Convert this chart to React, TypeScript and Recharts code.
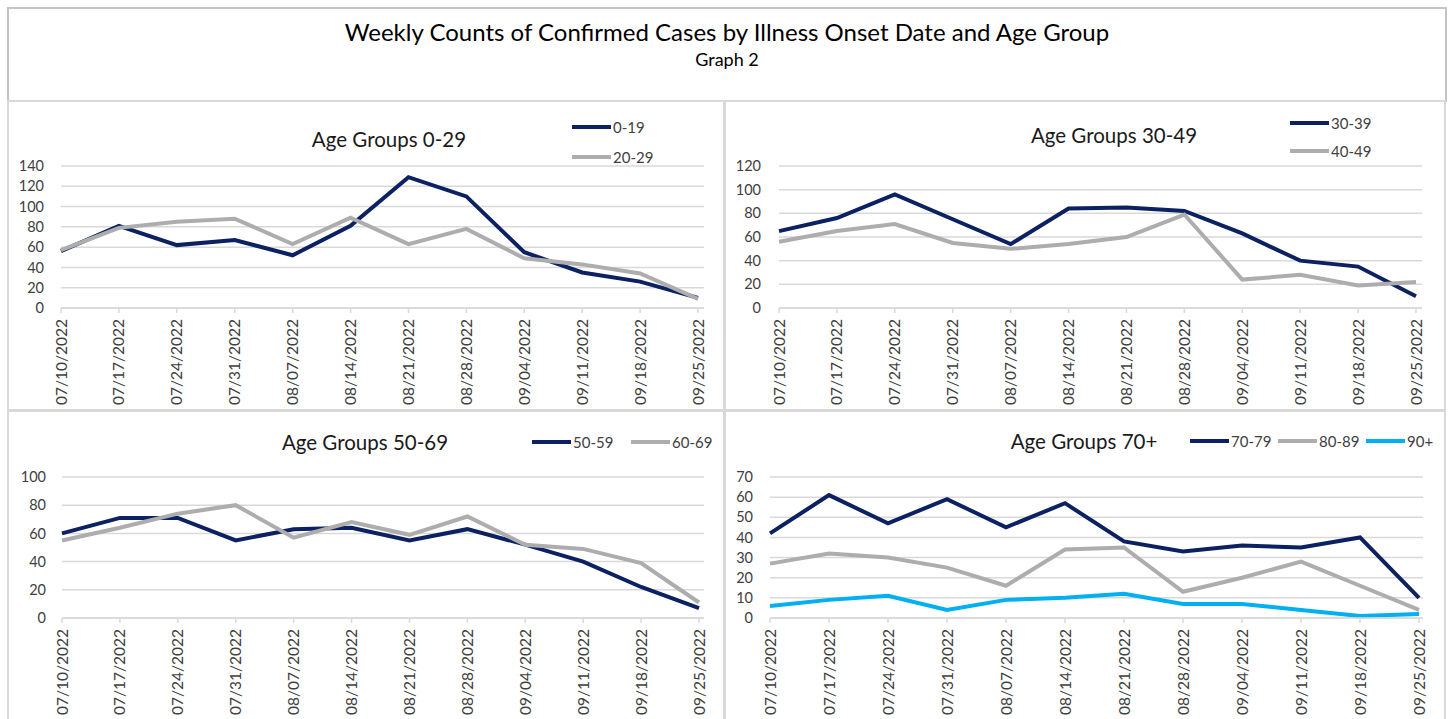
import { LineChart, Line, XAxis, YAxis, CartesianGrid, Legend } from "recharts";

const FONT = "Lato, 'Open Sans', sans-serif";
const NAVY = "#0C2161";
const GRAY = "#ADADAD";
const SKY = "#00B0F0";
const GRID = "#D9D9D9";

// week of illness onset
const weeks = [
  "07/10/2022", "07/17/2022", "07/24/2022", "07/31/2022", "08/07/2022", "08/14/2022",
  "08/21/2022", "08/28/2022", "09/04/2022", "09/11/2022", "09/18/2022", "09/25/2022",
];

const age0to19 = [56, 81, 62, 67, 52, 81, 129, 110, 55, 35, 26, 10];
const age20to29 = [57, 79, 85, 88, 63, 89, 63, 78, 49, 43, 34, 9];
const age30to39 = [65, 76, 96, 75, 54, 84, 85, 82, 63, 40, 35, 10];
const age40to49 = [56, 65, 71, 55, 50, 54, 60, 79, 24, 28, 19, 22];
const age50to59 = [60, 71, 71, 55, 63, 64, 55, 63, 52, 40, 22, 7];
const age60to69 = [55, 64, 74, 80, 57, 68, 59, 72, 52, 49, 39, 11];
const age70to79 = [42, 61, 47, 59, 45, 57, 38, 33, 36, 35, 40, 10];
const age80to89 = [27, 32, 30, 25, 16, 34, 35, 13, 20, 28, 16, 4];
const age90plus = [6, 9, 11, 4, 9, 10, 12, 7, 7, 4, 1, 2];

const ticks0to29 = [0, 20, 40, 60, 80, 100, 120, 140];
const ticks30to49 = [0, 20, 40, 60, 80, 100, 120];
const ticks50to69 = [0, 20, 40, 60, 80, 100];
const ticks70plus = [0, 10, 20, 30, 40, 50, 60, 70];

type Series = { key: string; name: string; values: number[]; color: string };

const buildRows = (series: Series[]) =>
  weeks.map((week, i) => {
    const row: Record<string, string | number> = { week };
    series.forEach((s) => (row[s.key] = s.values[i]));
    return row;
  });

const DateTick = (props: any) => {
  const { x, y, payload } = props;
  return (
    <text
      x={x}
      y={y}
      dy={5.5}
      transform={`rotate(-90, ${x}, ${y})`}
      textAnchor="end"
      fill="#404040"
      fontSize={15.5}
      fontFamily={FONT}
    >
      {payload.value}
    </text>
  );
};

const makeLegend = (vertical: boolean, rowGap: number, itemWidth: number) => (props: any) => {
  const items = props.payload || [];
  return (
    <div
      style={{
        display: "flex",
        flexDirection: vertical ? "column" : "row",
        fontFamily: FONT,
        fontSize: 15,
        color: "#404040",
      }}
    >
      {items.map((it: any) => (
        <div
          key={it.value}
          style={{
            display: "flex",
            alignItems: "center",
            height: vertical ? rowGap : 20,
            width: vertical ? undefined : itemWidth,
          }}
        >
          <span style={{ display: "inline-block", width: 39, height: 4, background: it.color, marginRight: 2 }} />
          <span>{it.value}</span>
        </div>
      ))}
    </div>
  );
};

type PanelProps = {
  left: number;
  top: number;
  width: number;
  height: number;
  title: string;
  titleX: number;
  titleY: number;
  series: Series[];
  ticks: number[];
  margin: { top: number; right: number; bottom: number; left: number };
  yWidth: number;
  yGap: number;
  padRight: number;
  legendLeft: number;
  legendTop: number;
  legendVertical: boolean;
  rowGap: number;
  itemWidth: number;
};

function Panel(p: PanelProps) {
  const rows = buildRows(p.series);
  return (
    <div
      style={{
        position: "absolute",
        left: p.left,
        top: p.top,
        width: p.width,
        height: p.height,
        border: `2px solid ${GRID}`,
        boxSizing: "border-box",
      }}
    >
      <div style={{ position: "absolute", left: -2, top: -2 }}>
        <LineChart width={p.width} height={p.height} data={rows} margin={p.margin}>
          <CartesianGrid vertical={false} stroke={GRID} strokeWidth={1.5} />
          <XAxis
            dataKey="week"
            interval={0}
            padding={{ left: 0, right: p.padRight }}
            stroke={GRID}
            strokeWidth={1.5}
            tickSize={5}
            tickMargin={6}
            height={100}
            tick={<DateTick />}
          />
          <YAxis
            width={p.yWidth}
            domain={[0, p.ticks[p.ticks.length - 1]]}
            ticks={p.ticks}
            interval={0}
            axisLine={false}
            tickLine={false}
            tickSize={0}
            tickMargin={p.yGap}
            tick={{ fill: "#404040", fontSize: 14.5, fontFamily: FONT }}
          />
          <Legend
            layout="vertical"
            align="center"
            verticalAlign="middle"
            wrapperStyle={{ left: p.legendLeft, top: p.legendTop, width: "auto", height: "auto" }}
            content={makeLegend(p.legendVertical, p.rowGap, p.itemWidth)}
          />
          {p.series.map((s) => (
            <Line
              key={s.key}
              type="linear"
              dataKey={s.key}
              name={s.name}
              stroke={s.color}
              strokeWidth={4}
              dot={false}
              activeDot={false}
              isAnimationActive={false}
            />
          ))}
        </LineChart>
        <div
          style={{
            position: "absolute",
            left: p.titleX,
            top: p.titleY,
            transform: "translate(-50%, -50%)",
            fontFamily: FONT,
            fontSize: 20.5,
            color: "#1a1a1a",
            whiteSpace: "nowrap",
            lineHeight: 1,
          }}
        >
          {p.title}
        </div>
      </div>
    </div>
  );
}

export default function App() {
  return (
    <div style={{ position: "absolute", left: 0, top: 0, width: 1449, height: 719, background: "#fff", overflow: "hidden" }}>
      <div
        style={{
          position: "absolute",
          left: 7,
          top: 7,
          width: 1440,
          height: 95,
          border: "2px solid #C4C4C4",
          boxSizing: "border-box",
          fontFamily: FONT,
          textAlign: "center",
          color: "#000",
        }}
      >
        <div style={{ position: "absolute", left: 0, right: 0, top: 11, fontSize: 24, lineHeight: 1 }}>
          Weekly Counts of Confirmed Cases by Illness Onset Date and Age Group
        </div>
        <div style={{ position: "absolute", left: 0, right: 0, top: 41, fontSize: 18, lineHeight: 1 }}>Graph 2</div>
      </div>

      <Panel
        left={7}
        top={100}
        width={718}
        height={311}
        title="Age Groups 0-29"
        titleX={382}
        titleY={39}
        series={[
          { key: "a", name: "0-19", values: age0to19, color: NAVY },
          { key: "b", name: "20-29", values: age20to29, color: GRAY },
        ]}
        ticks={ticks0to29}
        margin={{ top: 66, right: 21, bottom: 3, left: 0 }}
        yWidth={54}
        yGap={17}
        padRight={6}
        legendLeft={565}
        legendTop={12}
        legendVertical={true}
        rowGap={30}
        itemWidth={0}
      />
      <Panel
        left={724}
        top={100}
        width={722}
        height={311}
        title="Age Groups 30-49"
        titleX={390}
        titleY={35}
        series={[
          { key: "a", name: "30-39", values: age30to39, color: NAVY },
          { key: "b", name: "40-49", values: age40to49, color: GRAY },
        ]}
        ticks={ticks30to49}
        margin={{ top: 66, right: 24, bottom: 3, left: 0 }}
        yWidth={55}
        yGap={18}
        padRight={6}
        legendLeft={566}
        legendTop={9}
        legendVertical={true}
        rowGap={28}
        itemWidth={0}
      />
      <Panel
        left={7}
        top={410}
        width={718}
        height={311}
        title="Age Groups 50-69"
        titleX={358}
        titleY={32}
        series={[
          { key: "a", name: "50-59", values: age50to59, color: NAVY },
          { key: "b", name: "60-69", values: age60to69, color: GRAY },
        ]}
        ticks={ticks50to69}
        margin={{ top: 67, right: 21, bottom: 3, left: 0 }}
        yWidth={55}
        yGap={16}
        padRight={5}
        legendLeft={525}
        legendTop={22}
        legendVertical={false}
        rowGap={20}
        itemWidth={99}
      />
      <Panel
        left={724}
        top={410}
        width={722}
        height={311}
        title="Age Groups 70+"
        titleX={360}
        titleY={31}
        series={[
          { key: "a", name: "70-79", values: age70to79, color: NAVY },
          { key: "b", name: "80-89", values: age80to89, color: GRAY },
          { key: "c", name: "90+", values: age90plus, color: SKY },
        ]}
        ticks={ticks70plus}
        margin={{ top: 67, right: 23, bottom: 3, left: 0 }}
        yWidth={46}
        yGap={17}
        padRight={4}
        legendLeft={466}
        legendTop={21}
        legendVertical={false}
        rowGap={20}
        itemWidth={88}
      />
    </div>
  );
}
